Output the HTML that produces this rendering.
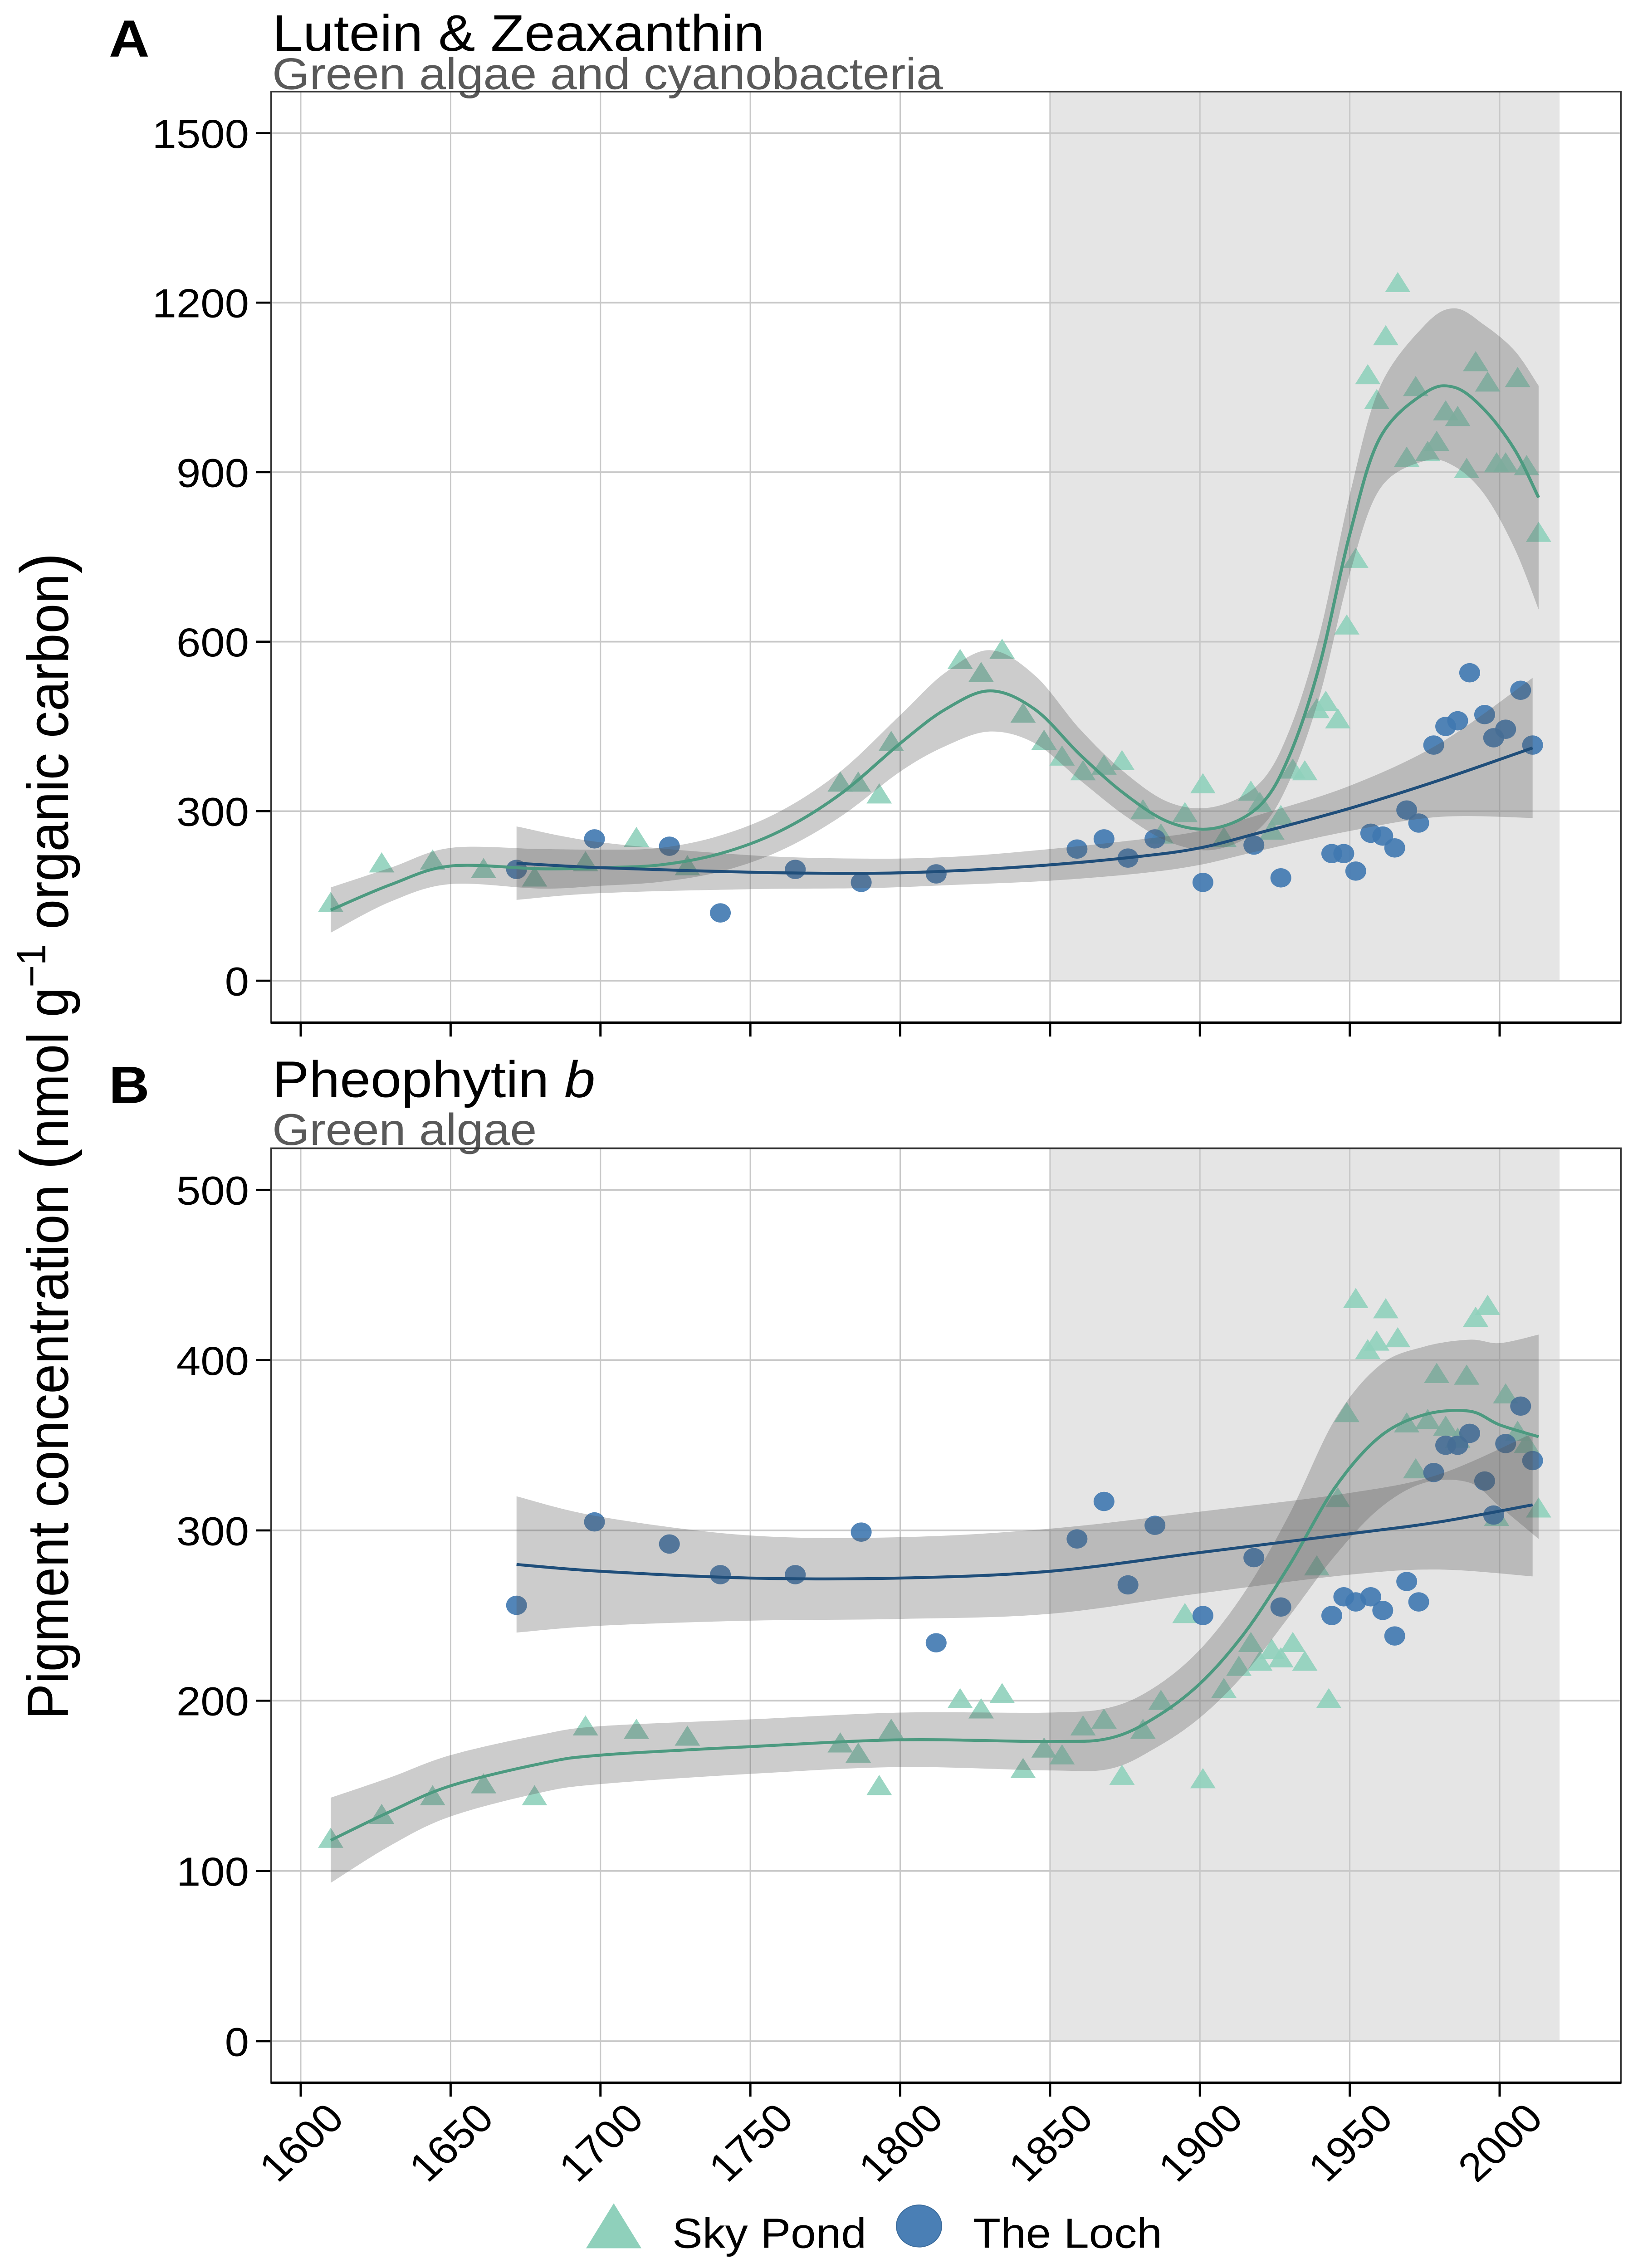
<!DOCTYPE html>
<html><head><meta charset="utf-8"><style>
html,body{margin:0;padding:0;background:#fff;width:100%;height:100%;overflow:hidden;}
svg{display:block;position:absolute;left:0;top:0;width:100vw;height:100vh;font-family:"Liberation Sans",Arial,sans-serif;}
</style></head><body>
<svg id="chart" viewBox="0 0 3600 5400" preserveAspectRatio="none" xmlns="http://www.w3.org/2000/svg">
<rect x="0" y="0" width="3600" height="5400" fill="#fff"/>
<text x="240" y="135" font-size="124" font-weight="bold">A</text>
<text x="600" y="121" font-size="122">Lutein &amp; Zeaxanthin</text>
<text x="600" y="212" font-size="106" fill="#595959">Green algae and cyanobacteria</text>
<text x="240" y="2626" font-size="124" font-weight="bold">B</text>
<text x="600" y="2612" font-size="122">Pheophytin <tspan font-style="italic">b</tspan></text>
<text x="600" y="2726" font-size="106" fill="#595959">Green algae</text>
<text transform="translate(150,2705) rotate(-90)" text-anchor="middle" font-size="128">Pigment concentration <tspan font-size="150">(</tspan>nmol g<tspan dy="-50" font-size="90">−1</tspan><tspan dy="50"> organic carbon</tspan><tspan font-size="150">)</tspan></text>
<g id="pa"></g>
<g id="pb"></g>
<g>
<polygon points="1353,5246 1292,5353 1414,5353" fill="#8fd0bb"/>
<text x="1482" y="5352" font-size="100">Sky Pond</text>
<circle cx="2026" cy="5300" r="50" fill="#4a7fb5" stroke="#3a6a9a" stroke-width="2"/>
<text x="2145" y="5352" font-size="100">The Loch</text>
</g>
</svg>
<script>
// ---------- data ----------
const xTicks = [1600,1650,1700,1750,1800,1850,1900,1950,2000];
const yTicksA = [0,300,600,900,1200,1500];
const yTicksB = [0,100,200,300,400,500];

const skyYearsA = [1610,1627,1644,1661,1678,1695,1712,1729,1780,1786,1793,1797,1820,1827,1834,1841,1848,1854,1861,1868,1874,1881,1887,1895,1901,1908,1917,1920,1924,1927,1931,1935,1939,1942,1946,1949,1952,1956,1959,1962,1966,1969,1972,1976,1979,1982,1986,1989,1992,1996,1999,2002,2006,2009,2013];
const skyValsA = [135,205,210,195,180,207,250,200,348,348,327,420,565,542,583,470,422,394,368,378,386,299,256,294,345,250,332,312,263,289,371,368,478,491,460,626,744,1069,1025,1138,1232,923,1048,933,951,1005,995,903,1092,1056,913,913,1064,908,790];
const lochYearsA = [1672,1698,1723,1740,1765,1787,1812,1859,1868,1876,1885,1901,1918,1927,1944,1948,1952,1957,1961,1965,1969,1973,1978,1982,1986,1990,1995,1998,2002,2007,2011];
const lochValsA = [197,251,238,120,197,174,189,233,251,217,251,174,240,182,225,225,194,261,256,235,302,279,417,450,460,545,471,430,445,514,417];
const skyFitYearsA = [1610,1630,1650,1680,1700,1720,1740,1760,1780,1800,1815,1830,1845,1860,1875,1890,1905,1920,1930,1940,1950,1960,1975,1985,1995,2005,2013];
const skyFitA = [125,170,203,198,200,205,225,265,330,420,480,513,480,400,330,280,270,310,400,560,790,960,1040,1050,1010,940,855];
const skyFitSeA = [40,30,32,35,32,30,32,35,40,50,65,72,60,45,38,35,38,40,45,55,70,90,120,140,150,175,198];
const lochFitYearsA = [1672,1700,1750,1790,1820,1850,1880,1900,1920,1950,1980,2011];
const lochFitA = [208,200,192,190,195,205,220,235,262,305,355,412];
const lochFitSeA = [65,45,30,26,25,28,30,30,32,40,65,124];

const skyYearsB = [1610,1627,1644,1661,1678,1695,1712,1729,1780,1786,1793,1797,1820,1827,1834,1841,1848,1854,1861,1868,1874,1881,1887,1895,1901,1908,1913,1917,1920,1924,1927,1931,1935,1939,1943,1946,1949,1952,1956,1959,1962,1966,1969,1972,1976,1979,1982,1986,1989,1992,1996,1999,2002,2006,2009,2013];
const skyValsB = [118,132,143,150,143,184,182,178,174,168,149,182,200,194,203,159,171,167,184,188,155,182,199,250,153,206,219,233,222,229,224,233,222,278,200,318,368,435,405,410,429,412,362,335,364,391,360,353,390,424,431,307,379,357,350,312];
const lochYearsB = [1672,1698,1723,1740,1765,1787,1812,1859,1868,1876,1885,1901,1918,1927,1944,1948,1952,1957,1961,1965,1969,1973,1978,1982,1986,1990,1995,1998,2002,2007,2011];
const lochValsB = [256,305,292,274,274,299,234,295,317,268,303,250,284,255,250,261,258,261,253,238,270,258,334,350,350,357,329,309,351,373,341];
const skyFitYearsB = [1610,1630,1650,1680,1700,1750,1800,1850,1870,1885,1900,1915,1930,1945,1960,1975,1990,2000,2013];
const skyFitB = [118,135,150,163,168,173,177,176,178,190,210,240,280,325,355,368,370,362,355];
const skyFitSeB = [25,20,18,17,17,16,16,17,18,18,20,24,30,40,42,40,42,48,60];
const lochFitYearsB = [1672,1700,1750,1800,1850,1900,1950,1980,2011];
const lochFitB = [280,276,272,272,276,287,298,305,315];
const lochFitSeB = [40,32,25,24,25,24,24,28,42];

// ---------- drawing ----------
const NS = "http://www.w3.org/2000/svg";
const X0 = 598, X1 = 3573;
function xs(yr){ return 663 + (yr-1600)*(3306-663)/400; }
function mk(parent, tag, attrs){
  const e = document.createElementNS(NS, tag);
  for (const k in attrs) e.setAttribute(k, attrs[k]);
  parent.appendChild(e); return e;
}
function splinePath(pts, move){
  let d = (move ? "M" : "L") + pts[0][0].toFixed(1) + "," + pts[0][1].toFixed(1);
  for (let i=0;i<pts.length-1;i++){
    const p0=pts[Math.max(0,i-1)], p1=pts[i], p2=pts[i+1], p3=pts[Math.min(pts.length-1,i+2)];
    const c1=[p1[0]+(p2[0]-p0[0])/6, p1[1]+(p2[1]-p0[1])/6];
    const c2=[p2[0]-(p3[0]-p1[0])/6, p2[1]-(p3[1]-p1[1])/6];
    d += " C"+c1[0].toFixed(1)+","+c1[1].toFixed(1)+" "+c2[0].toFixed(1)+","+c2[1].toFixed(1)+" "+p2[0].toFixed(1)+","+p2[1].toFixed(1);
  }
  return d;
}
function panel(g, top, bot, y0, perUnit, yTicks, showLabels, series){
  const ys = v => y0 - v*perUnit;
  const shade = mk(g,"rect",{x:xs(1850),y:top,width:xs(2020)-xs(1850),height:y0-top,fill:"#e5e5e5"});
  
  
  xTicks.forEach(t=>{
    const l = mk(g,"line",{x1:xs(t),x2:xs(t),y1:top,y2:bot,stroke:"#c8c8c8","stroke-width":3});
    
    
  });
  yTicks.forEach(t=>{
    const l = mk(g,"line",{x1:X0,x2:X1,y1:ys(t),y2:ys(t),stroke:"#c8c8c8","stroke-width":4});
    
    
    const tk = mk(g,"line",{x1:564,x2:X0,y1:ys(t),y2:ys(t),stroke:"#000","stroke-width":5});
    
    
    const tx = mk(g,"text",{x:549,y:ys(t)+35,"text-anchor":"end","font-size":96});
    tx.textContent = t;
    
    
  });
  series.forEach(s=>{
    s.years.forEach((yr,i)=>{
      const x=xs(yr), y=ys(s.vals[i]);
      let p;
      if (s.shape==="tri"){
        p = mk(g,"polygon",{points:`${x},${y-30} ${x-28},${y+18} ${x+28},${y+18}`,fill:"#8fd0bb","fill-opacity":0.9});
        
      } else {
        p = mk(g,"circle",{cx:x,cy:y,r:23,fill:"#3f78b0","fill-opacity":0.9});
        
      }
      
    });
  });
  series.forEach(s=>{
    const up = s.fy.map((yr,i)=>[xs(yr), ys(s.fit[i]+s.se[i])]);
    const lo = s.fy.map((yr,i)=>[xs(yr), ys(s.fit[i]-s.se[i])]).reverse();
    const rb = mk(g,"path",{d:splinePath(up,true)+" "+splinePath(lo,false)+" Z",fill:"#555","fill-opacity":0.3});
    
    
  });
  series.forEach(s=>{
    const pts = s.fy.map((yr,i)=>[xs(yr), ys(s.fit[i])]);
    const ln = mk(g,"path",{d:splinePath(pts,true),fill:"none",stroke:s.line,"stroke-width":7});
    
    
  });
  const frame = mk(g,"rect",{x:X0,y:top,width:X1-X0,height:bot-top,fill:"none",stroke:"#333","stroke-width":4});
  
  
  const xa = mk(g,"line",{x1:X0,x2:X1,y1:bot,y2:bot,stroke:"#000","stroke-width":6});
  
  
  xTicks.forEach(t=>{
    const tk = mk(g,"line",{x1:xs(t),x2:xs(t),y1:bot,y2:bot+33,stroke:"#000","stroke-width":5});
    
    
    if (showLabels){
      const tx = mk(g,"text",{transform:`translate(${xs(t)+100},${bot+90}) rotate(-45)`,"text-anchor":"end","font-size":96});
      tx.textContent = t;
      
      
    }
  });
}
panel(document.getElementById("pa"), 218, 2435, 2335, (2335-317)/1500, yTicksA, false, [
  {name:"sky-pond", shape:"tri", years:skyYearsA, vals:skyValsA, fy:skyFitYearsA, fit:skyFitA, se:skyFitSeA, line:"#4c9a80"},
  {name:"the-loch", shape:"circ", years:lochYearsA, vals:lochValsA, fy:lochFitYearsA, fit:lochFitA, se:lochFitSeA, line:"#1f4e7a"}
]);
panel(document.getElementById("pb"), 2734, 4959, 4860, (4860-2833)/500, yTicksB, true, [
  {name:"sky-pond", shape:"tri", years:skyYearsB, vals:skyValsB, fy:skyFitYearsB, fit:skyFitB, se:skyFitSeB, line:"#4c9a80"},
  {name:"the-loch", shape:"circ", years:lochYearsB, vals:lochValsB, fy:lochFitYearsB, fit:lochFitB, se:lochFitSeB, line:"#1f4e7a"}
]);
</script>
</body></html>
